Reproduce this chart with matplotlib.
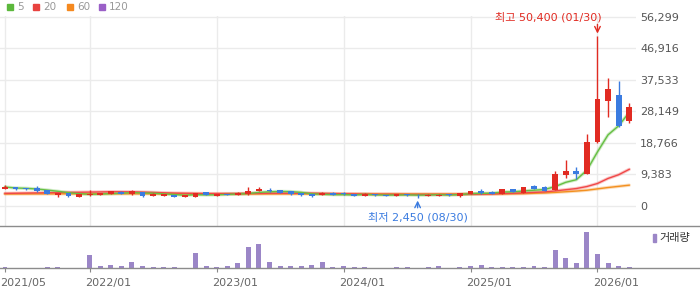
import matplotlib
matplotlib.use('Agg')
import matplotlib.pyplot as plt
import matplotlib.transforms as mtransforms
from matplotlib.patches import Rectangle
import numpy as np
import pandas as pd

plt.rcParams['font.family'] = ['DejaVu Sans', 'Noto Sans CJK KR']

# monthly candles 2021/05 .. 2026/04
opens = [5064, 5660, 5362, 5362, 4766, 3277, 3873, 2681, 3277, 3277,
         3575, 4171, 3575, 4171, 2979, 2979, 3277, 2681, 2681, 4171,
         2979, 3575, 3277, 3575, 4469, 4766, 4766, 4469, 3873, 3575,
         3277, 3873, 3873, 3575, 2979, 3575, 3277, 2979, 3575, 3400,
         2979, 2979, 3400, 2979, 3575, 4469, 4171, 3575, 5064, 3873,
         5958, 5660, 4766, 9235, 10427, 9533, 19066, 31280, 33067, 25322]
closes = [5660, 5064, 5064, 4469, 3480, 3873, 2979, 3575, 3575, 3873,
          4469, 3575, 4469, 2979, 3575, 3500, 2681, 3277, 3873, 3277,
          3575, 3277, 3873, 4469, 5064, 4469, 3873, 3575, 3277, 2979,
          3873, 3277, 3575, 2979, 3575, 3277, 2979, 3575, 3277, 3150,
          3400, 3400, 3200, 3873, 4469, 3873, 3575, 5064, 4171, 5660,
          5064, 4560, 9533, 10427, 9533, 19066, 31875, 34855, 23832, 29492]
highs = [6256, 5700, 5400, 5958, 4766, 3873, 3873, 3600, 4766, 4000,
         4500, 4469, 4766, 4171, 3873, 3575, 3300, 3300, 3900, 4171,
         3600, 3650, 4171, 5660, 5660, 5362, 4900, 4469, 3900, 3600,
         4171, 4171, 4171, 3600, 3873, 3600, 3300, 3600, 3600, 3450,
         3450, 3450, 3450, 3900, 4500, 5064, 4469, 5100, 5100, 5700,
         6160, 5958, 10427, 13703, 11618, 21449, 50400, 38131, 37237, 30684]
lows = [5000, 4766, 4870, 4260, 3480, 2750, 2700, 2650, 2979, 3200,
        3500, 3575, 3277, 2681, 2979, 2900, 2600, 2650, 2600, 3277,
        2950, 3200, 3250, 3277, 4469, 4171, 3800, 3400, 3000, 2681,
        3277, 3200, 3277, 2950, 2950, 2979, 2950, 2950, 2979, 2450,
        2950, 2950, 2979, 2681, 3500, 3575, 3500, 3500, 4100, 3800,
        5000, 4380, 4700, 8341, 8043, 9400, 18800, 26513, 23500, 24726]
volumes = [13, 3, 3, 3, 13, 13, 3, 3, 133, 23,
           33, 23, 63, 23, 13, 13, 13, 3, 153, 23,
           13, 23, 53, 213, 243, 63, 23, 23, 23, 33,
           63, 13, 23, 13, 13, 3, 3, 13, 13, 3,
           13, 23, 3, 13, 23, 33, 13, 13, 13, 13,
           23, 13, 183, 103, 53, 363, 143, 53, 23, 13]
# moving averages (longer history not shown)
ma20 = [3750, 3800, 3850, 3900, 3950, 4000, 4050, 4100, 4150, 4200,
        4250, 4250, 4200, 4150, 4050, 3950, 3850, 3800, 3750, 3700,
        3700, 3700, 3700, 3750, 3750, 3800, 3800, 3800, 3800, 3800,
        3750, 3700, 3650, 3600, 3550, 3500, 3500, 3500, 3450, 3450,
        3450, 3450, 3450, 3450, 3500, 3550, 3600, 3700, 3800, 3900,
        4050, 4200, 4500, 4850, 5200, 5800, 6700, 8200, 9300, 10900]
ma60 = [3600, 3600, 3610, 3620, 3620, 3630, 3630, 3640, 3640, 3650,
        3650, 3650, 3640, 3640, 3630, 3620, 3610, 3600, 3600, 3590,
        3590, 3590, 3600, 3600, 3610, 3610, 3620, 3620, 3620, 3610,
        3600, 3600, 3590, 3580, 3570, 3560, 3560, 3550, 3550, 3550,
        3550, 3550, 3550, 3560, 3570, 3580, 3600, 3620, 3650, 3700,
        3800, 3900, 4050, 4250, 4450, 4700, 5100, 5500, 5850, 6200]

price_ticks = [0, 9383, 18766, 28149, 37533, 46916, 56299]
date_idx = [0, 8, 20, 32, 44, 56]
date_labels = ['2021/05', '2022/01', '2023/01', '2024/01', '2025/01', '2026/01']

RED = '#e12b22'
BLUE = '#3a7be0'
W, H = 700, 289


def rect(x0, y0, x1, y1):
    return [x0 / W, 1 - y1 / H, (x1 - x0) / W, (y1 - y0) / H]


step = 10.58  # px per month
x0 = -5 / step

fig = plt.figure(figsize=(7, 2.89), dpi=100)
ax = fig.add_axes(rect(0, 16, 636, 225.5))
axv = fig.add_axes(rect(0, 225.5, 700, 268.3))

n = len(closes)
x = np.arange(n)
ma5 = pd.Series(closes).rolling(5, min_periods=1).mean()

# price panel
for c, vals in [('#f39020', ma60), ('#f04848', ma20), ('#66bf44', ma5)]:
    ax.plot(x, vals, color=c, lw=2.4, alpha=0.3, zorder=2, solid_capstyle='round')
    ax.plot(x, vals, color=c, lw=1.0, zorder=2.1)

for i in range(n):
    col = RED if closes[i] >= opens[i] else BLUE
    ax.vlines(i, lows[i], highs[i], color=col, lw=1, zorder=3)
    body = abs(closes[i] - opens[i])
    ax.bar(i, max(body, 250), bottom=min(opens[i], closes[i]), width=0.55,
           color=col, zorder=4, linewidth=0)

ymin = -(225.5 - 206) / 190 * 56299
ax.set_ylim(ymin, 56299 + 150)
ax.set_xlim(x0, (636 - 5) / step)
ax.yaxis.tick_right()
ax.set_yticks(price_ticks)
ax.set_yticklabels([f'{v:,}' for v in price_ticks])
ax.tick_params(axis='y', length=0, pad=3, labelsize=8, labelcolor='#555555')
ax.set_xticks(date_idx)
ax.tick_params(axis='x', length=0, labelbottom=False)
ax.grid(True, color='#ebebeb', lw=1)
ax.set_axisbelow(True)
for s in ax.spines.values():
    s.set_visible(False)

# high / low annotations
hi = int(np.argmax(highs))
lo = int(np.argmin(lows))
ax.annotate('', xy=(hi, highs[hi]), xytext=(0, 12), textcoords='offset pixels',
            arrowprops=dict(arrowstyle='->', color=RED, lw=1, shrinkA=0, shrinkB=2))
ax.annotate(f'최고 {highs[hi]:,} (01/30)', xy=(hi, highs[hi]), xytext=(4, 19),
            textcoords='offset pixels', ha='right', va='center', color=RED, fontsize=8)
ax.annotate('', xy=(lo, lows[lo]), xytext=(0, -10), textcoords='offset pixels',
            arrowprops=dict(arrowstyle='->', color=BLUE, lw=1, shrinkA=0, shrinkB=2))
ax.annotate(f'최저 {lows[lo]:,} (08/30)', xy=(lo, lows[lo]), xytext=(0, -19),
            textcoords='offset pixels', ha='center', va='center', color=BLUE, fontsize=8)

# volume panel
axv.bar(x, volumes, width=0.47, color='#9b86c7', linewidth=0)
axv.set_xlim(x0, (700 - 5) / step)
axv.set_ylim(0, max(volumes) * 42.8 / 36.3)
axv.set_yticks([])
axv.set_xticks(date_idx)
axv.set_xticklabels(date_labels)
axv.tick_params(axis='x', length=3, color='#888888', pad=4, labelsize=8, labelcolor='#666666')
offset = mtransforms.ScaledTranslation(-4.5 / 100, 0, fig.dpi_scale_trans)
for lab in axv.get_xticklabels():
    lab.set_ha('left')
    lab.set_transform(lab.get_transform() + offset)
for k in ['left', 'right']:
    axv.spines[k].set_visible(False)
for k in ['top', 'bottom']:
    axv.spines[k].set_color('#8c8c8c')
    axv.spines[k].set_linewidth(1)
axv.patch.set_alpha(0)

fig.patches.append(Rectangle((653 / W, 1 - 242 / H), 3 / W, 8 / H,
                             transform=fig.transFigure, color='#9b86c7', figure=fig))
fig.text(659 / W, 1 - 238 / H, '거래량', fontsize=8, color='#333333', va='center')

# top legend
legend_items = [('5', '#5cb83c', 7), ('20', '#e8423f', 33), ('60', '#f5891f', 67), ('120', '#9a5fc7', 99)]
for lab, c, px in legend_items:
    fig.patches.append(Rectangle((px / W, 1 - 10 / H), 6 / W, 6 / H,
                                 transform=fig.transFigure, color=c, figure=fig))
    fig.text((px + 10) / W, 1 - 7 / H, lab, fontsize=7.5, color='#999999', va='center')

fig.savefig('out.png', dpi=100)
